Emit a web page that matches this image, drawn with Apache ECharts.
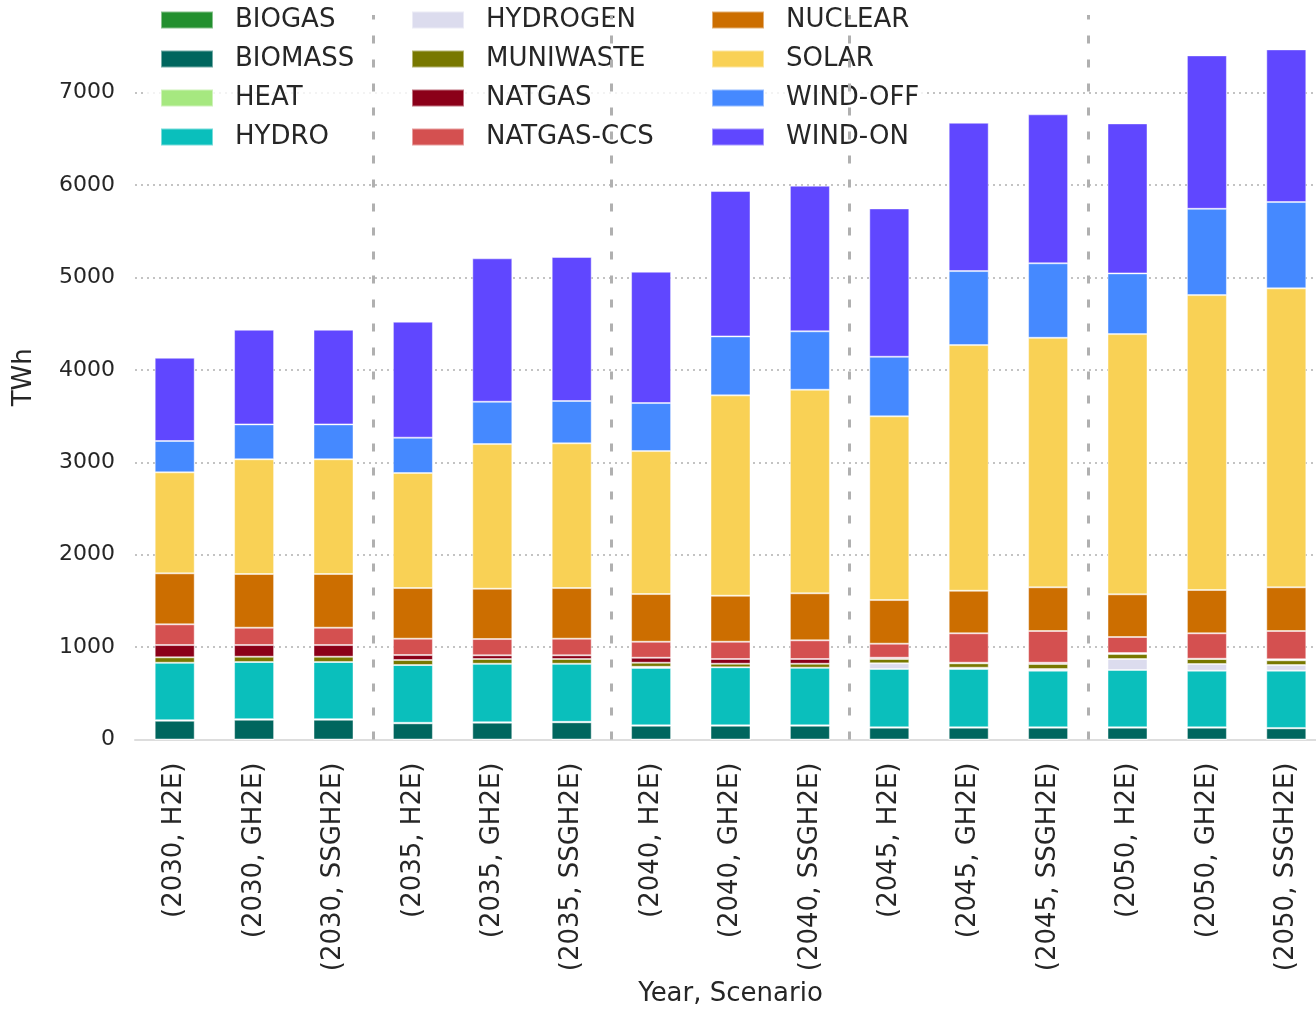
<!DOCTYPE html>
<html>
<head>
<meta charset="utf-8">
<title>Electricity generation by source</title>
<script src="https://cdn.jsdelivr.net/npm/echarts@6/dist/echarts.min.js"></script>
<style>
  html, body { margin: 0; padding: 0; background: #fff; overflow: hidden; }
  #chart { width: 1316px; height: 1009px; }
</style>
</head>
<body>
<div id="chart"></div>
<script>
// Year / scenario combinations on the x axis
const categories = [
  '(2030, H2E)', '(2030, GH2E)', '(2030, SSGH2E)',
  '(2035, H2E)', '(2035, GH2E)', '(2035, SSGH2E)',
  '(2040, H2E)', '(2040, GH2E)', '(2040, SSGH2E)',
  '(2045, H2E)', '(2045, GH2E)', '(2045, SSGH2E)',
  '(2050, H2E)', '(2050, GH2E)', '(2050, SSGH2E)'
];

// Generation per source, TWh
const biogas    = [0, 0, 0, 0, 0, 0, 0, 0, 0, 0, 0, 0, 0, 0, 0];
const biomass   = [203, 214, 214, 175, 182, 186, 149, 149, 149, 128, 128, 128, 128, 128, 121];
const heat      = [6, 6, 6, 6, 5, 5, 4, 4, 4, 4, 4, 4, 4, 4, 4];
const hydro     = [622, 619, 619, 625, 633, 629, 622, 628, 624, 631, 631, 613, 620, 613, 620];
const hydrogen  = [0, 0, 0, 0, 0, 0, 12, 0, 0, 61, 14, 18, 119, 72, 61];
const muniwaste = [58, 57, 57, 54, 51, 51, 44, 39, 43, 47, 47, 54, 54, 54, 51];
const natgas    = [133, 126, 126, 54, 40, 40, 54, 51, 51, 14, 7, 14, 11, 3, 11];
const natgasCcs = [224, 188, 188, 177, 176, 180, 173, 187, 202, 152, 318, 343, 173, 275, 306];
const nuclear   = [552, 581, 581, 548, 545, 548, 516, 498, 509, 472, 461, 473, 462, 469, 473];
const solar     = [1093, 1241, 1241, 1245, 1565, 1566, 1547, 2168, 2203, 1988, 2658, 2700, 2816, 3191, 3235];
const windOff   = [339, 378, 378, 382, 458, 458, 520, 638, 632, 645, 801, 806, 657, 934, 934];
const windOn    = [901, 1024, 1024, 1255, 1552, 1558, 1421, 1573, 1576, 1605, 1605, 1612, 1623, 1660, 1652];

// Positions (in category units) of the dashed separators between years
const yearBreaks = [2.5, 5.5, 8.5, 11.5];

const sources = [
  { name: 'BIOGAS',     data: biogas,    color: '#23902f' },
  { name: 'BIOMASS',    data: biomass,   color: '#00665e' },
  { name: 'HEAT',       data: heat,      color: '#a6e880' },
  { name: 'HYDRO',      data: hydro,     color: '#0abfbc' },
  { name: 'HYDROGEN',   data: hydrogen,  color: '#dcdcee' },
  { name: 'MUNIWASTE',  data: muniwaste, color: '#787800' },
  { name: 'NATGAS',     data: natgas,    color: '#8b0019' },
  { name: 'NATGAS-CCS', data: natgasCcs, color: '#d45050' },
  { name: 'NUCLEAR',    data: nuclear,   color: '#cc6e00' },
  { name: 'SOLAR',      data: solar,     color: '#f9d155' },
  { name: 'WIND-OFF',   data: windOff,   color: '#4589ff' },
  { name: 'WIND-ON',    data: windOn,    color: '#6047ff' }
];

const FONT = 'DejaVu Sans';
const TEXT = '#262626';

const barSeries = sources.map(s => ({
  name: s.name,
  type: 'bar',
  stack: 'total',
  barWidth: 40,
  data: s.data,
  itemStyle: { color: s.color, borderColor: 'rgba(255,255,255,0.45)', borderWidth: 1 },
  emphasis: { disabled: true }
}));

const separatorSeries = {
  name: 'year-breaks',
  type: 'line',
  xAxisIndex: 1,
  yAxisIndex: 0,
  data: [],
  silent: true,
  markLine: {
    silent: true,
    symbol: ['none', 'none'],
    label: { show: false },
    lineStyle: { color: '#b0b0b0', width: 3, type: [8, 16] },
    data: yearBreaks.map(v => ({ xAxis: v }))
  }
};

function legendColumn(names, left) {
  return {
    data: names,
    orient: 'vertical',
    left: left,
    top: 7,
    padding: 0,
    itemWidth: 52,
    itemHeight: 17,
    itemGap: 13,
    icon: 'rect',
    z: 5,
    textStyle: { fontFamily: FONT, fontSize: 26, color: TEXT, lineHeight: 26, padding: [0, 0, 0, 17] },
    selectedMode: false
  };
}

const option = {
  backgroundColor: '#ffffff',
  animation: false,
  textStyle: { fontFamily: FONT },
  grid: { left: 135, top: 15, width: 1191, height: 724.5, containLabel: false, outerBoundsMode: 'none' },
  graphic: [{
    type: 'rect',
    z: 3,
    shape: { x: 145, y: 0, width: 782, height: 155 },
    style: { fill: 'rgba(255,255,255,0.8)' },
    silent: true
  }],
  legend: [
    legendColumn(['BIOGAS', 'BIOMASS', 'HEAT', 'HYDRO'], 160),
    legendColumn(['HYDROGEN', 'MUNIWASTE', 'NATGAS', 'NATGAS-CCS'], 411),
    legendColumn(['NUCLEAR', 'SOLAR', 'WIND-OFF', 'WIND-ON'], 711)
  ],
  xAxis: [{
    type: 'category',
    data: categories,
    name: 'Year, Scenario',
    nameLocation: 'middle',
    nameGap: 242,
    nameTextStyle: { fontFamily: FONT, fontSize: 26, color: TEXT, verticalAlign: 'top' },
    axisLine: { show: true, lineStyle: { color: '#dddddd', width: 2 } },
    axisTick: { show: false },
    axisLabel: { rotate: 90, margin: 23, fontFamily: FONT, fontSize: 26, color: TEXT, interval: 0 },
    splitLine: { show: false }
  }, {
    type: 'value',
    min: -0.5,
    max: 14.5,
    show: false
  }],
  yAxis: {
    type: 'value',
    min: 0,
    max: 7840,
    interval: 1000,
    name: 'TWh',
    nameLocation: 'middle',
    nameGap: 98,
    nameTextStyle: { fontFamily: FONT, fontSize: 26, color: TEXT },
    axisLine: { show: false },
    axisTick: { show: false },
    axisLabel: {
      margin: 20, fontFamily: FONT, fontSize: 22, color: TEXT, showMaxLabel: false,
      formatter: v => String(v)
    },
    splitLine: { show: true, showMaxLine: false, lineStyle: { color: '#b0b0b0', width: 1.5, type: [2, 4] } }
  },
  series: [...barSeries, separatorSeries]
};

const chart = echarts.init(document.getElementById('chart'), null, { renderer: 'canvas' });
chart.setOption(option);
</script>
</body>
</html>
